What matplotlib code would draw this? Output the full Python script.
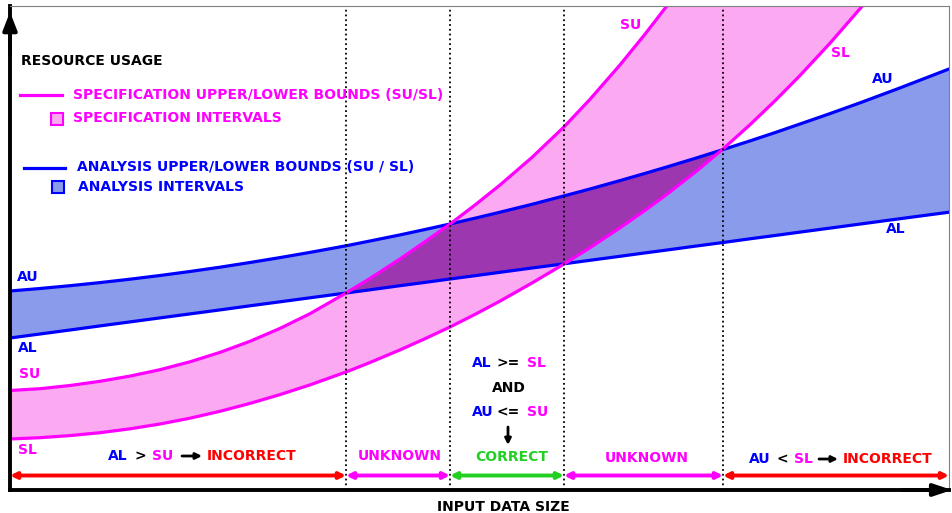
import numpy as np
import matplotlib
matplotlib.use('Agg')
import matplotlib.pyplot as plt

# input data size samples (shared by all four bound curves)
size = np.array([0, 30, 60, 90, 120, 150, 180, 210, 240, 270, 300, 336, 360, 390, 415, 440,
                 465, 490, 522, 554, 580, 610, 635, 657, 685, 713, 740, 765, 790, 820, 852,
                 890, 939])

# analysis bounds
au = np.array([199.0, 201.5, 204.3, 207.4, 210.8, 214.5, 218.5, 222.8, 227.5, 232.4, 237.6,
               244.2, 249.0, 255.1, 260.5, 266.0, 271.8, 277.8, 285.7, 294.1, 301.0, 309.4,
               316.6, 323.1, 331.6, 340.4, 349.1, 357.4, 366.0, 376.4, 387.9, 402.1, 421.0])
al = np.array([152.0, 156.0, 160.0, 164.1, 168.1, 172.1, 176.1, 180.1, 184.2, 188.2, 192.2,
               197.0, 200.2, 204.3, 207.6, 211.0, 214.3, 217.7, 222.0, 226.2, 229.7, 233.7,
               237.1, 240.0, 243.8, 247.5, 251.2, 254.5, 257.9, 261.9, 266.2, 271.3, 277.8])

# specification bounds (run off the top of the plot on the right)
su = np.array([99.5, 101.3, 104.5, 108.7, 113.9, 120.3, 128.2, 137.6, 148.7, 161.6, 176.3,
               197.0, 211.5, 231.0, 248.3, 266.0, 285.0, 305.0, 332.6, 363.1, 390.7, 425.1,
               455.8, 484.3, 522.8, 563.7, 605.6, 646.6, 689.6, 743.6, 804.4, 880.0, 985.0])
sl = np.array([51.0, 52.3, 54.4, 57.3, 61.2, 66.0, 71.8, 78.7, 86.6, 95.4, 105.1,
               118.0, 127.5, 140.1, 151.3, 163.0, 175.6, 188.9, 207.0, 226.0, 242.3, 262.2,
               279.6, 295.8, 317.7, 341.0, 365.3, 389.2, 414.5, 446.8, 483.6, 530.5, 596.2])

# where the verdict changes along the x axis
region_edges = [0, 336, 440, 554, 713, 939]
region_colors = ['#ff0000', '#ff00ff', '#22d022', '#ff00ff', '#ff0000']

X_MAX = 939
Y_MAX = 484

MAG = '#ff00ff'
BLUE = '#0000ff'
RED = '#ff0000'
GREEN = '#22d022'
PINK_FILL = '#fba9f1'
BLUE_FILL = '#8b9beb'
OVERLAP_FILL = '#9c37b0'

fig = plt.figure(figsize=(9.53, 5.13), dpi=100)
ax = fig.add_axes([10 / 953, 23 / 513, 939 / 953, 484 / 513])
ax.set_xlim(0, X_MAX)
ax.set_ylim(0, Y_MAX)
ax.set_xticks([])
ax.set_yticks([])

for side in ['left', 'bottom']:
    ax.spines[side].set_linewidth(2.8)
    ax.spines[side].set_color('black')
for side in ['top', 'right']:
    ax.spines[side].set_linewidth(0.8)
    ax.spines[side].set_color('#808080')

# intervals
ax.fill_between(size, sl, su, color=PINK_FILL, lw=0)
ax.fill_between(size, al, au, color=BLUE_FILL, lw=0)
low = np.maximum(al, sl)
high = np.minimum(au, su)
ax.fill_between(size, low, high, where=high > low, interpolate=True,
                color=OVERLAP_FILL, lw=0)

# bounds
ax.plot(size, au, color=BLUE, lw=2.3)
ax.plot(size, al, color=BLUE, lw=2.3)
ax.plot(size, su, color=MAG, lw=2.3)
ax.plot(size, sl, color=MAG, lw=2.3)

for xe in region_edges[1:-1]:
    ax.axvline(xe, color='black', ls=':', lw=1.3)

# region arrows along the bottom
for x0, x1, c in zip(region_edges[:-1], region_edges[1:], region_colors):
    ax.annotate('', xy=(x1, 14.5), xytext=(x0, 14.5),
                arrowprops=dict(arrowstyle='<|-|>', color=c, lw=2.8,
                                mutation_scale=9, shrinkA=0, shrinkB=0))

fs = 10
def put(x, y, s, color, ha='left'):
    ax.text(x, y, s, color=color, fontsize=fs, fontweight='bold',
            ha=ha, va='center')

# legend
put(11, 429, 'RESOURCE USAGE', 'black')
ax.plot([10, 52], [395, 395], color=MAG, lw=2.3)
put(63, 395, 'SPECIFICATION UPPER/LOWER BOUNDS (SU/SL)', MAG)
ax.plot([46.5], [371.5], marker='s', ms=8, mfc=PINK_FILL, mec=MAG, mew=1.5)
put(63, 372, 'SPECIFICATION INTERVALS', MAG)
ax.plot([14, 55], [322, 322], color=BLUE, lw=2.3)
put(67, 323, 'ANALYSIS UPPER/LOWER BOUNDS (SU / SL)', BLUE)
ax.plot([47.5], [303.5], marker='s', ms=8, mfc=BLUE_FILL, mec=BLUE, mew=1.5)
put(68, 303, 'ANALYSIS INTERVALS', BLUE)

# curve labels
put(7, 213, 'AU', BLUE)
put(8, 142, 'AL', BLUE)
put(9, 116, 'SU', MAG)
put(8, 40, 'SL', MAG)
put(621, 465, 'SU', MAG, ha='center')
put(830, 437, 'SL', MAG, ha='center')
put(873, 411, 'AU', BLUE, ha='center')
put(886, 261, 'AL', BLUE, ha='center')

# region verdicts
put(98, 34, 'AL', BLUE)
put(125, 34, '>', 'black')
put(142, 34, 'SU', MAG)
ax.annotate('', xy=(192, 34), xytext=(172, 34),
            arrowprops=dict(arrowstyle='-|>', color='black', lw=2,
                            mutation_scale=9, shrinkA=0, shrinkB=0))
put(197, 34, 'INCORRECT', RED)

put(389.5, 34, 'UNKNOWN', MAG, ha='center')

put(462, 127, 'AL', BLUE)
put(486, 127, '>=', 'black')
put(517, 127, 'SL', MAG)
put(498.5, 102, 'AND', 'black', ha='center')
put(462, 78, 'AU', BLUE)
put(487, 78, '<=', 'black')
put(517, 78, 'SU', MAG)
ax.annotate('', xy=(498, 45), xytext=(498, 63),
            arrowprops=dict(arrowstyle='-|>', color='black', lw=2,
                            mutation_scale=9, shrinkA=0, shrinkB=0))
put(501.5, 33, 'CORRECT', GREEN, ha='center')

put(637, 32, 'UNKNOWN', MAG, ha='center')

put(739, 31, 'AU', BLUE)
put(767, 31, '<', 'black')
put(784, 31, 'SL', MAG)
ax.annotate('', xy=(828, 31), xytext=(809, 31),
            arrowprops=dict(arrowstyle='-|>', color='black', lw=2,
                            mutation_scale=9, shrinkA=0, shrinkB=0))
put(833, 31, 'INCORRECT', RED)

# axis arrow heads
ax.annotate('', xy=(0, 1 - 6 / 484), xytext=(0, 0.9), xycoords='axes fraction',
            arrowprops=dict(arrowstyle='-|>,head_length=0.9,head_width=0.35',
                            color='black', lw=2.8, mutation_scale=12,
                            shrinkA=0, shrinkB=0), annotation_clip=False)
ax.annotate('', xy=(1 + 3 / 939, 0), xytext=(0.95, 0), xycoords='axes fraction',
            arrowprops=dict(arrowstyle='-|>,head_length=0.9,head_width=0.3',
                            color='black', lw=2.8, mutation_scale=12,
                            shrinkA=0, shrinkB=0), annotation_clip=False)

fig.text(503 / 953, 1 - 507 / 513, 'INPUT DATA SIZE', fontsize=fs,
         fontweight='bold', ha='center', va='center')

fig.savefig('out.png', dpi=100)
